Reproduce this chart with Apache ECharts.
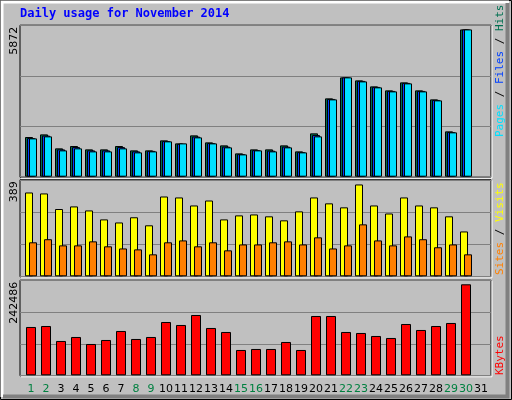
<!DOCTYPE html>
<html><head><meta charset="utf-8">
<script src="https://cdn.jsdelivr.net/npm/echarts@6/dist/echarts.min.js"></script>
<style>html,body{margin:0;padding:0;background:#c0c0c0}#c{width:512px;height:400px}</style>
</head><body><div id="c"></div>
<script>
const days = ['1','2','3','4','5','6','7','8','9','10','11','12','13','14','15','16','17','18','19','20','21','22','23','24','25','26','27','28','29','30','31'];
const weekend = ['1','2','8','9','15','16','22','23','29','30'];
const hits  = [1582,1687,1130,1223,1090,1090,1223,1050,1050,1449,1329,1648,1369,1249,930,1090,1090,1249,1010,1728,3123,3960,3840,3601,3442,3761,3442,3083,1808,5872,null];
const files = [1540,1640,1090,1180,1050,1050,1180,1010,1030,1420,1310,1600,1340,1200,900,1060,1040,1200,980,1660,3100,3960,3820,3580,3420,3740,3420,3060,1780,5872,null];
const pages = [1528,1608,1050,1130,1010,1010,1130,970,1010,1409,1329,1568,1329,1170,890,1050,1010,1170,970,1608,3083,3960,3800,3562,3402,3721,3402,3043,1768,5872,null];
const visits = [355,351,285,296,279,241,228,250,216,338,334,300,321,241,258,262,254,237,275,334,309,292,389,300,266,334,300,292,254,190,null];
const sites  = [144,157,131,131,148,127,118,114,93,144,152,127,144,110,135,135,144,148,135,165,118,131,220,152,131,169,157,123,135,93,null];
const kbytes = [128760,131400,91460,102120,83470,94130,118100,96790,102120,142080,134090,160730,126100,115440,67490,70150,70150,88800,67490,158060,158060,115440,112780,104780,99460,136750,120770,131400,139420,242486,null];
const maxLabels = ['5872','389','242486'];
const scaleMax = [6020, 406.6, 252100];

const panels = [{top:25.7,h:151},{top:180.3,h:96},{top:280.7,h:94.6}];
const grids=[], xAxes=[], yAxes=[];
panels.forEach((p,i)=>{
  grids.push({left:20,width:471,top:p.top,height:p.h});
  grids.push({left:23.5,width:465,top:p.top,height:p.h});
  xAxes.push({gridIndex:2*i,type:'value',show:false});
  xAxes.push({gridIndex:2*i+1,type:'category',data:days,boundaryGap:true,show:i===2,
    axisLine:{show:false},axisTick:{show:false},
    axisLabel:{show:i===2,interval:0,margin:8,fontFamily:'DejaVu Sans',fontSize:11,
      color:(v)=>weekend.includes(v)?'#008040':'#000'}});
  yAxes.push({gridIndex:2*i,type:'value',min:0,max:scaleMax[i],interval:scaleMax[i]/3,
    axisLine:{show:false},axisTick:{show:false},axisLabel:{show:false},
    splitLine:{show:true,lineStyle:{color:'#808080',width:1}}});
  yAxes.push({gridIndex:2*i+1,type:'value',min:0,max:scaleMax[i],show:false,splitLine:{show:false}});
});
function bar(data,color,xi,w,gap){
  return {type:'bar',data,xAxisIndex:xi,yAxisIndex:xi,barWidth:w,barGap:gap,animation:false,
    itemStyle:{color,borderColor:'#000',borderWidth:1}};
}
const series=[
  bar(hits,'#007050',1,8,'-75%'),
  bar(files,'#0040ff',1,8,'-75%'),
  bar(pages,'#00e0ff',1,8,'-75%'),
  bar(visits,'#ffff00',3,8,'-50%'),
  bar(sites,'#ff8000',3,8,'-50%'),
  bar(kbytes,'#ff0000',5,10,'0%')
];
const mono='DejaVu Sans Mono';
const graphic=[
  {type:'rect',z:-10,shape:{x:0.5,y:0.5,width:511,height:399},style:{fill:'#c0c0c0',stroke:'#000',lineWidth:1}},
  {type:'polyline',z:-9,shape:{points:[[2,397],[2,2],[509,2]]},style:{stroke:'#fff',lineWidth:3,fill:null}},
  {type:'polyline',z:-9,shape:{points:[[3,396.5],[507.5,396.5],[507.5,3]]},style:{stroke:'#808080',lineWidth:4,fill:null}},
  {type:'text',left:20,top:8,style:{text:'Daily usage for November 2014',fill:'#0000ff',font:'bold 12px "'+mono+'"'}},
];
panels.forEach((p,i)=>{
  graphic.push({type:'rect',z:-5,shape:{x:20,y:p.top-0.5,width:471,height:p.h+1},style:{fill:null,stroke:'#000',lineWidth:1}});
  graphic.push({type:'line',z:-5,shape:{x1:21,y1:p.top+p.h+1.5,x2:492,y2:p.top+p.h+1.5},style:{stroke:'#fff',lineWidth:1}});
  graphic.push({type:'line',z:-5,shape:{x1:492,y1:p.top,x2:492,y2:p.top+p.h+1.5},style:{stroke:'#fff',lineWidth:1}});
  graphic.push({type:'text',x:9,y:p.top+1,rotation:Math.PI/2,style:{text:maxLabels[i],fill:'#000',font:'11px "DejaVu Sans"',align:'right',verticalAlign:'top'}});
});
function rlabel(y,parts){
  graphic.push({type:'text',x:495,y:y,rotation:Math.PI/2,style:{
    rich:{a:{fill:'#00e0ff'},b:{fill:'#0040ff'},c:{fill:'#007050'},s:{fill:'#000'},o:{fill:'#ff8000'},v:{fill:'#ffff00'},r:{fill:'#ff0000'}},
    text:parts,font:'11px "'+mono+'"',align:'left',verticalAlign:'top'}});
}
rlabel(137,'{a|Pages} {s|/} {b|Files} {s|/} {c|Hits}');
rlabel(275,'{o|Sites} {s|/} {v|Visits}');
rlabel(375,'{r|KBytes}');
const chart=echarts.init(document.getElementById('c'));
chart.setOption({animation:false,grid:grids,xAxis:xAxes,yAxis:yAxes,series,graphic});
</script></body></html>
